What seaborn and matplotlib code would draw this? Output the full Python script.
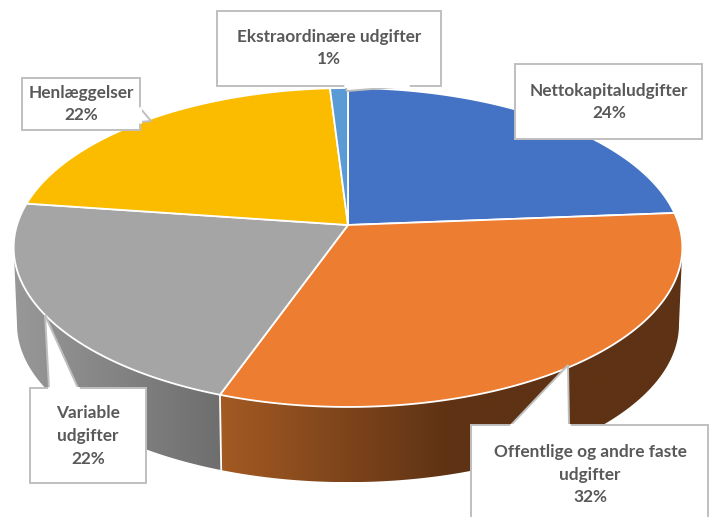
import numpy as np
import matplotlib
matplotlib.use("Agg")
import matplotlib.pyplot as plt
from matplotlib.patches import Polygon
import seaborn as sns

categories = ["Nettokapitaludgifter", "Offentlige og andre faste\nudgifter", "Variable\nudgifter",
              "Henlæggelser", "Ekstraordinære udgifter"]
shares = [24, 32, 22, 22, 1]
slice_colors = ["#4472C4", "#ED7D31", "#A5A5A5", "#FBBC00", "#5B9BD5"]

# Callout boxes: left, top, right, bottom, pointer outline, text centre
callouts = [
    dict(box=(515, 64, 702, 139), pointer=None, text=(609, 102)),
    dict(box=(471, 425, 708, 530), pointer=[(569, 425), (568, 365), (511, 425)], text=(590, 475)),
    dict(box=(30, 388, 146, 483), pointer=[(49, 388), (45, 315), (78, 388)], text=(88, 436)),
    dict(box=(22, 78, 140, 130), pointer=[(140, 122), (151, 121), (140, 108)], text=(81, 104)),
    dict(box=(217, 11, 441, 86), pointer=[(345, 86), (347, 91), (408, 86)], text=(329, 48)),
]

# Projection of the tilted disc
CX, CY = 348, 225
HALF_W, HALF_H, TILT = 331, 156.3, 0.141
DEPTH, FLOOR_SCALE = 77, 0.99
START_DEG = 0.0


def rim_xy(theta, scale=1.0, drop=0.0):
    """Screen position of a rim point; theta runs clockwise from twelve o'clock."""
    d = 1 + TILT * np.cos(theta)
    x = CX + scale * HALF_W * np.sin(theta) / d
    y = CY + drop - scale * HALF_H * np.cos(theta) / d
    return x, y


sns.set_theme(style="white")
plt.rcParams["font.family"] = ["Lato", "DejaVu Sans"]

fig = plt.figure(figsize=(7.11, 5.17), dpi=100)
ax = fig.add_axes([0, 0, 1, 1])

fractions = np.asarray(shares, dtype=float) / np.sum(shares)
edges = np.radians(START_DEG) + 2 * np.pi * np.concatenate([[0], np.cumsum(fractions)])

# Side walls with a horizontal shading, running between the two silhouette tangents
wall_shades = {
    1: ("#A35A23", "#5E3214", "#5E3214"),
    2: ("#989898", "#6E6E6E"),
}
near_from = np.arccos(-TILT)
near_to = 2 * np.pi - near_from
for idx, stops in wall_shades.items():
    t = np.linspace(max(edges[idx], near_from), min(edges[idx + 1], near_to), 200)
    xt, yt = rim_xy(t)
    xb, yb = rim_xy(t, FLOOR_SCALE, DEPTH)
    outline = np.column_stack([np.r_[xt, xb[::-1]], np.r_[yt, yb[::-1]]])
    cmap = sns.blend_palette(stops, as_cmap=True)
    x_lo, x_hi = outline[:, 0].min(), outline[:, 0].max()
    y_lo, y_hi = outline[:, 1].min(), outline[:, 1].max()
    grad = np.linspace(0, 1, 256).reshape(1, -1)
    im = ax.imshow(grad, cmap=cmap, extent=(x_lo, x_hi, y_hi, y_lo),
                   aspect="auto", zorder=1, interpolation="bilinear")
    im.set_clip_path(Polygon(outline, closed=True, transform=ax.transData))

# Separator between the two shaded walls
for boundary in edges[1:-1]:
    if near_from < boundary < near_to:
        top, floor = rim_xy(boundary), rim_xy(boundary, FLOOR_SCALE, DEPTH)
        ax.plot([top[0], floor[0]], [top[1], floor[1]], color="white", lw=1.3, zorder=2)

# Top face of the disc
for i, color in enumerate(slice_colors):
    t = np.linspace(edges[i], edges[i + 1], 200)
    x, y = rim_xy(t)
    ax.fill(np.r_[CX, x], np.r_[CY, y], facecolor=color, edgecolor="white",
            linewidth=1.3, joinstyle="round", zorder=3)

# Callouts with their pointers
for c, label, share in zip(callouts, categories, shares):
    l, t, r, b = c["box"]
    ax.fill([l, r, r, l], [t, t, b, b], facecolor="white", edgecolor="#BFBFBF",
            linewidth=1.4, zorder=4)
    if c["pointer"]:
        px, py = zip(*c["pointer"])
        ax.fill(px, py, facecolor="white", edgecolor="none", zorder=4.1)
        ax.plot(px, py, color="#BFBFBF", lw=1.4, zorder=4.2, solid_joinstyle="miter")
        ax.plot([px[0], px[-1]], [py[0], py[-1]], color="white", lw=2.2, zorder=4.3)
    ax.text(c["text"][0], c["text"][1], f"{label}\n{share}%", ha="center", va="center",
            color="#595959", fontsize=12.4, fontweight="bold", linespacing=1.5, zorder=5)

ax.set_xlim(0, 711)
ax.set_ylim(517, 0)
ax.axis("off")

fig.savefig("out.png", dpi=100, facecolor="white")
